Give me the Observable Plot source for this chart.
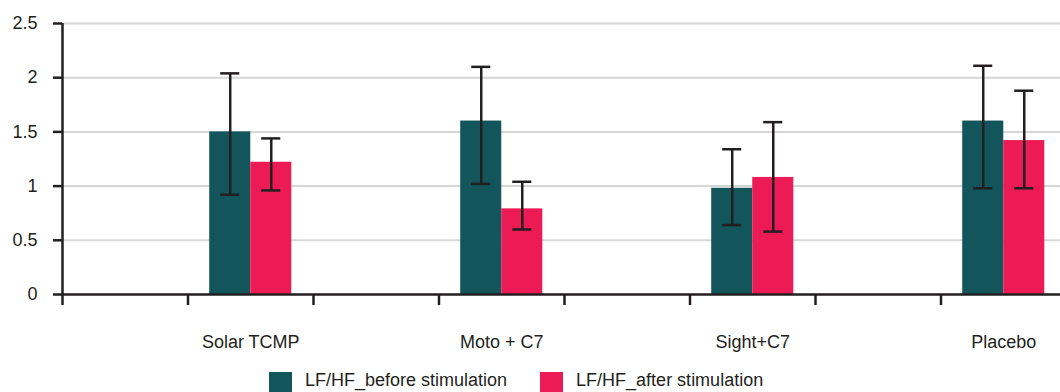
<!DOCTYPE html>
<html>
<head>
<meta charset="utf-8">
<script src="https://cdn.jsdelivr.net/npm/d3@7"></script>
<script src="https://cdn.jsdelivr.net/npm/@observablehq/plot@0.6"></script>
<style>
  body { margin: 0; background: #fff; font-family: "Liberation Sans", Arial, sans-serif; }
  #wrap { position: relative; width: 1060px; height: 392px; overflow: hidden; }
  #legend { position: absolute; left: 269px; top: 372px; display: flex; align-items: flex-start; font-size: 18px; color: #231f20; }
  .item { display: flex; align-items: flex-start; margin-right: 33px; }
  .sw { width: 23px; height: 23px; margin-right: 13px; }
  .lab { line-height: 20px; margin-top: -2px; white-space: nowrap; }
</style>
</head>
<body>
<div id="wrap">
  <div id="chart"></div>
  <div id="legend"></div>
</div>
<script>
// ---- data ----
const categories = ["Solar TCMP", "Moto + C7", "Sight+C7", "Placebo"];
const series = ["LF/HF_before stimulation", "LF/HF_after stimulation"];
const beforeMean = [1.50, 1.60, 0.98, 1.60];
const beforeLow  = [0.92, 1.02, 0.64, 0.98];
const beforeHigh = [2.04, 2.10, 1.34, 2.11];
const afterMean  = [1.22, 0.79, 1.08, 1.42];
const afterLow   = [0.96, 0.60, 0.58, 0.98];
const afterHigh  = [1.44, 1.04, 1.59, 1.88];
const yTicks = [0, 0.5, 1, 1.5, 2, 2.5];
const colors = ["#12555B", "#EC1A55"];

// ---- layout constants ----
const slotCount = 8;          // every category sits in an odd slot, with an empty slot before it
const barW = 0.327;           // bar width in slot units
const capHalf = 0.076;        // half width of error caps in slot units
const ink = "#231f20";

const means = [beforeMean, afterMean], lows = [beforeLow, afterLow], highs = [beforeHigh, afterHigh];
const rows = categories.flatMap((c, i) => series.map((s, k) => {
  const center = 2 * i + 1.5;
  const x1 = center + (k - 1) * barW;
  return { category: c, series: s, x1, x2: x1 + barW, xc: x1 + barW / 2,
           value: means[k][i], lo: lows[k][i], hi: highs[k][i] };
}));
const labelPos = categories.map((c, i) => 2 * i + 1.5);

const chart = Plot.plot({
  width: 1060,
  height: 362,
  marginLeft: 62,
  marginRight: 0,
  marginTop: 23,
  marginBottom: 68,
  style: { fontFamily: "Liberation Sans, Arial, sans-serif", color: ink, background: "#fff" },
  x: { domain: [0, slotCount], range: [62, 1066], label: null, axis: null },
  y: { domain: [0, 2.5], label: null, axis: null },
  color: { domain: series, range: colors },
  marks: [
    Plot.ruleY(yTicks.filter(d => d > 0), { stroke: "#d6d6d6", strokeWidth: 2 }),
    Plot.rectY(rows, { x1: "x1", x2: "x2", y1: 0, y2: "value", fill: "series" }),
    Plot.ruleX(rows, { x: "xc", y1: "lo", y2: "hi", stroke: ink, strokeWidth: 2.5 }),
    Plot.ruleY(rows, { y: "lo", x1: d => d.xc - capHalf, x2: d => d.xc + capHalf, stroke: ink, strokeWidth: 2.5 }),
    Plot.ruleY(rows, { y: "hi", x1: d => d.xc - capHalf, x2: d => d.xc + capHalf, stroke: ink, strokeWidth: 2.5 }),
    Plot.ruleY([0], { stroke: ink, strokeWidth: 2.5 }),
    Plot.ruleX([0], { y1: 0, y2: 2.5, stroke: ink, strokeWidth: 2.5 }),
    Plot.axisY(yTicks, { tickSize: 9, tickPadding: 16, fontSize: 18, stroke: ink, strokeWidth: 2.5, fill: ink,
                         tickFormat: d => String(d), label: null }),
    Plot.axisX(d3.range(0, slotCount + 1), { tickSize: 11, stroke: ink, strokeWidth: 2.5,
                         tickFormat: () => "", label: null }),
    Plot.axisX(labelPos, { tickSize: 0, tickPadding: 41, fontSize: 18, fill: ink,
                         tickFormat: v => categories[labelPos.indexOf(v)], label: null })
  ]
});
document.getElementById("chart").appendChild(chart);

const legend = document.getElementById("legend");
series.forEach((s, k) => {
  const item = document.createElement("div");
  item.className = "item";
  const sw = document.createElement("div");
  sw.className = "sw";
  sw.style.background = colors[k];
  const lab = document.createElement("div");
  lab.className = "lab";
  lab.textContent = s;
  item.appendChild(sw);
  item.appendChild(lab);
  legend.appendChild(item);
});
</script>
</body>
</html>
